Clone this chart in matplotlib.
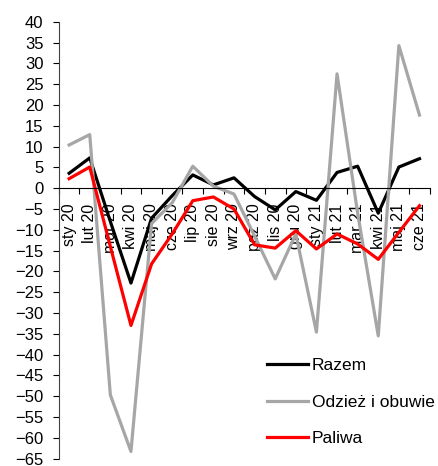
import matplotlib
matplotlib.use("Agg")
import matplotlib.pyplot as plt
import numpy as np

plt.rcParams["font.family"] = ["Liberation Sans", "DejaVu Sans"]

months = ["sty 20", "lut 20", "mar 20", "kwi 20", "maj 20", "cze 20",
          "lip 20", "sie 20", "wrz 20", "paź 20", "lis 20", "gru 20",
          "sty 21", "lut 21", "mar 21", "kwi 21", "maj 21", "cze 21"]

razem = [3.6, 7.3, -8.0, -22.8, -7.2, -1.8, 3.2, 0.8, 2.5, -2.0, -5.2, -0.8,
         -2.9, 3.8, 5.3, -6.0, 5.1, 7.1]
odziez = [10.4, 12.9, -49.7, -63.3, -8.5, -3.5, 5.3, 0.5, -1.4, -11.5, -21.8, -11.0,
          -34.6, 27.5, -6.0, -35.5, 34.3, 17.6]
paliwa = [2.3, 5.1, -14.0, -33.0, -18.2, -11.0, -3.0, -2.1, -5.0, -13.6, -14.4, -10.2,
          -14.6, -11.0, -13.4, -17.1, -10.6, -4.2]

fig = plt.figure(figsize=(4.39, 4.66), dpi=100)
ax = fig.add_axes([0.134, 0.016, 0.845, 0.937])

x = np.arange(len(months))
ax.plot(x, razem, color="black", lw=2.3, label="Razem")
ax.plot(x, odziez, color="#A6A6A6", lw=2.3, label="Odzież i obuwie")
ax.plot(x, paliwa, color="#FF0000", lw=2.3, label="Paliwa")

ax.set_xlim(-0.5, len(months) - 0.5)
ax.set_ylim(-65, 40)
ax.set_yticks(np.arange(-65, 41, 5))
ax.tick_params(axis="y", direction="out", length=4, labelsize=12, pad=7)

ax.spines["top"].set_visible(False)
ax.spines["right"].set_visible(False)
ax.spines["bottom"].set_position(("data", 0))
ax.spines["left"].set_color("#404040")

# ticks between categories, labels on categories
ax.set_xticks(np.arange(-0.5, len(months), 1.0))
ax.set_xticklabels([])
ax.tick_params(axis="x", which="major", direction="out", length=4)
ax.set_xticks(x, minor=True)
ax.set_xticklabels(months, minor=True, rotation=90, fontsize=11.5, va="top", ha="center")
ax.tick_params(axis="x", which="minor", length=0, pad=11)

ax.legend(loc="upper left", bbox_to_anchor=(0.608, 0.232), bbox_transform=fig.transFigure,
          frameon=False, fontsize=12.5, handlelength=2.36, handletextpad=0.23,
          labelspacing=1.24, borderaxespad=0, borderpad=0)

fig.savefig("out.png", dpi=100)
